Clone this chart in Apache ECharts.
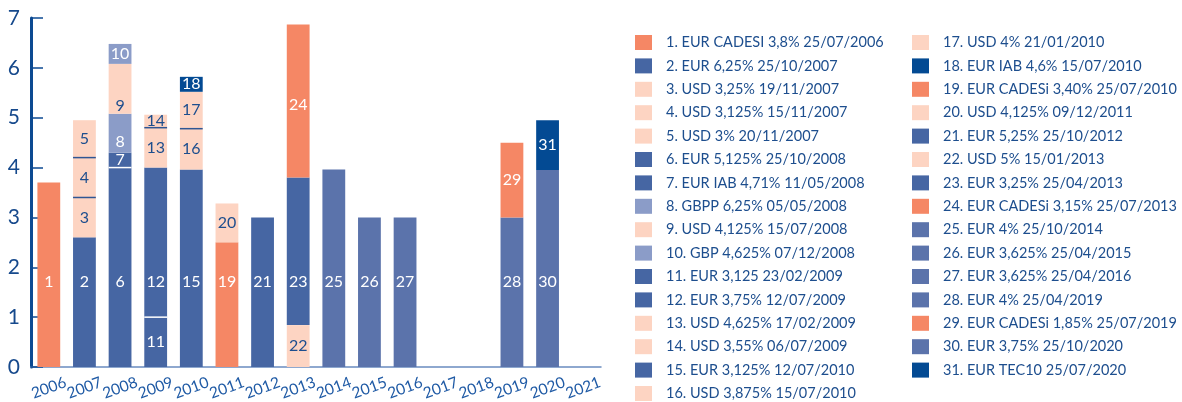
<!DOCTYPE html>
<html lang="fr">
<head>
<meta charset="utf-8">
<script src="https://cdn.jsdelivr.net/npm/echarts@6/dist/echarts.min.js"></script>
<style>
  html, body { margin: 0; padding: 0; background: #fff; }
  #main { width: 1182px; height: 402px; }
</style>
</head>
<body>
<div id="main"></div>
<script>
// categories (years)
var years = ['2006', '2007', '2008', '2009', '2010', '2011', '2012', '2013',
             '2014', '2015', '2016', '2017', '2018', '2019', '2020', '2021'];

// one entry per bond, in stacking order
var bondNames = [
    '1. EUR CADESI 3,8% 25/07/2006',
    '2. EUR 6,25% 25/10/2007',
    '3. USD 3,25% 19/11/2007',
    '4. USD 3,125% 15/11/2007',
    '5. USD 3% 20/11/2007',
    '6. EUR 5,125% 25/10/2008',
    '7. EUR IAB 4,71% 11/05/2008',
    '8. GBPP 6,25% 05/05/2008',
    '9. USD 4,125% 15/07/2008',
    '10. GBP 4,625% 07/12/2008',
    '11. EUR 3,125 23/02/2009',
    '12. EUR 3,75% 12/07/2009',
    '13. USD 4,625% 17/02/2009',
    '14. USD 3,55% 06/07/2009',
    '15. EUR 3,125% 12/07/2010',
    '16. USD 3,875% 15/07/2010',
    '17. USD 4% 21/01/2010',
    '18. EUR IAB 4,6% 15/07/2010',
    '19. EUR CADESi 3,40% 25/07/2010',
    '20. USD 4,125% 09/12/2011',
    '21. EUR 5,25% 25/10/2012',
    '22. USD 5% 15/01/2013',
    '23. EUR 3,25% 25/04/2013',
    '24. EUR CADESi 3,15% 25/07/2013',
    '25. EUR 4% 25/10/2014',
    '26. EUR 3,625% 25/04/2015',
    '27. EUR 3,625% 25/04/2016',
    '28. EUR 4% 25/04/2019',
    '29. EUR CADESi 1,85% 25/07/2019',
    '30. EUR 3,75% 25/10/2020',
    '31. EUR TEC10 25/07/2020'
];
var bondYears = ['2006', '2007', '2007', '2007', '2007', '2008', '2008', '2008', '2008', '2008',
                 '2009', '2009', '2009', '2009', '2010', '2010', '2010', '2010', '2011', '2011',
                 '2012', '2013', '2013', '2013', '2014', '2015', '2016', '2019', '2019', '2020', '2020'];
var bondValues = [3.7, 2.6, 0.8, 0.8, 0.75, 4.0, 0.3, 0.78, 1.0, 0.4,
                  1.0, 3.0, 0.8, 0.26, 3.96, 0.82, 0.74, 0.3, 2.5, 0.78,
                  3.0, 0.84, 2.96, 3.07, 3.96, 3.0, 3.0, 3.0, 1.5, 3.95, 1.0];

// bonds that have a thin separator line at their bottom edge
var separatorBonds = [4, 5, 7, 12, 14, 17];

// y axis ticks
var yTicks = [0, 1, 2, 3, 4, 5, 6, 7];

// colours
var SALMON = '#f58765', BLUE = '#4666a3', PEACH = '#fdd4c2', LILAC = '#8b9cc8',
    NAVY = '#034a93', BLUE2 = '#5b73ab', TEXT = '#1d4e8e';
var bondColors = [SALMON, BLUE, PEACH, PEACH, PEACH, BLUE, BLUE, LILAC, PEACH, LILAC,
                  BLUE, BLUE, PEACH, PEACH, BLUE, PEACH, PEACH, NAVY, SALMON, PEACH,
                  BLUE, PEACH, BLUE, SALMON, BLUE2, BLUE2, BLUE2, BLUE2, SALMON, BLUE2, NAVY];
var sepColors = {4: '#2f5694', 5: '#2f5694', 7: '#ffffff', 12: '#ffffff', 14: '#2f5694', 17: '#2f5694'};

// labels of the big segments sit at a common height (value ~1.7)
var lowLabelBonds = [1, 2, 6, 12, 15, 19, 21, 23, 25, 26, 27, 28, 30];
var labelNudge = {8: 9, 9: 17, 24: 4};
var PX_PER_UNIT = 49.9;

// stacked base of each bond
var running = {};
var bondBase = bondValues.map(function (v, i) {
    var y = bondYears[i];
    var b = running[y] || 0;
    running[y] = b + v;
    return b;
});

var series = bondNames.map(function (name, i) {
    var n = i + 1;
    var data = years.map(function (y) { return y === bondYears[i] ? bondValues[i] : null; });
    var label = {
        show: true,
        formatter: String(n),
        color: bondColors[i] === PEACH ? TEXT : '#ffffff',
        fontFamily: 'Lato',
        fontSize: 16,
        position: 'inside'
    };
    if (lowLabelBonds.indexOf(n) >= 0) {
        label.position = 'insideBottom';
        label.distance = (1.7 - bondBase[i]) * PX_PER_UNIT - 8;
    }
    if (labelNudge[n]) label.offset = [0, labelNudge[n]];
    return {
        name: name,
        type: 'bar',
        stack: 'total',
        barWidth: '64%',
        data: data,
        itemStyle: { color: bondColors[i] },
        label: label,
        emphasis: { disabled: true }
    };
});

// separators drawn at the bottom of selected segments
series.push({
    name: 'sep',
    type: 'custom',
    silent: true,
    z: 5,
    data: separatorBonds.map(function (n) {
        return [bondYears[n - 1], bondBase[n - 1], n];
    }),
    renderItem: function (params, api) {
        var p = api.coord([api.value(0), api.value(1)]);
        var w = api.size([1, 0])[0] * 0.64;
        return {
            type: 'line',
            shape: { x1: p[0] - w / 2, y1: p[1], x2: p[0] + w / 2, y2: p[1] },
            style: { stroke: sepColors[api.value(2)], lineWidth: 1.5 }
        };
    }
});

var legendText = {
    color: TEXT,
    fontFamily: 'Lato',
    fontSize: 14.5,
    lineHeight: 15,
    padding: [0, 0, 0, 9]
};

var chart = echarts.init(document.getElementById('main'));
chart.setOption({
    animation: false,
    grid: { left: 31, right: 581, top: 18, bottom: 35, outerBoundsMode: 'none' },
    legend: [{
        data: bondNames.slice(0, 16),
        orient: 'vertical',
        left: 635, top: 35, height: 380,
        padding: 0,
        icon: 'rect',
        itemWidth: 17, itemHeight: 15, itemGap: 8.4,
        textStyle: legendText,
        selectedMode: false
    }, {
        data: bondNames.slice(16),
        orient: 'vertical',
        left: 912, top: 35, height: 380,
        padding: 0,
        icon: 'rect',
        itemWidth: 17, itemHeight: 15, itemGap: 8.4,
        textStyle: legendText,
        selectedMode: false
    }],
    xAxis: {
        type: 'category',
        data: years,
        axisLine: { lineStyle: { color: '#6a8cc0', width: 1.5 } },
        axisTick: { show: false },
        axisLabel: {
            rotate: 20,
            align: 'center',
            verticalAlign: 'middle',
            margin: 21,
            color: '#1f5aa5',
            fontFamily: 'Lato',
            fontSize: 15.5,
            interval: 0
        }
    },
    yAxis: {
        type: 'value',
        min: yTicks[0],
        max: yTicks[yTicks.length - 1],
        interval: 1,
        axisLine: { show: true, lineStyle: { color: '#0c4a92', width: 3 } },
        axisTick: { show: true, inside: true, length: 12, lineStyle: { color: '#0c4a92', width: 1.5 } },
        axisLabel: { color: '#16498c', fontFamily: 'Lato', fontSize: 21, margin: 11 },
        splitLine: { show: false }
    },
    series: series
});
</script>
</body>
</html>
